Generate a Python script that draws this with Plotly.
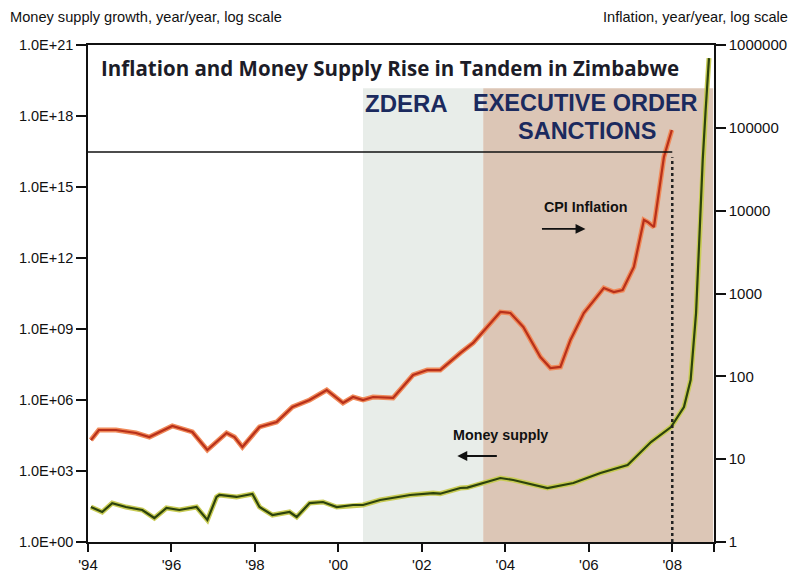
import plotly.graph_objects as go

# ---------------- data ----------------
cpi_years = [1994.07, 1994.26, 1994.67, 1995.15, 1995.47, 1996.02, 1996.50, 1996.67, 1996.86,
             1997.32, 1997.51, 1997.70, 1998.11, 1998.52, 1998.90, 1999.31, 1999.72, 2000.11,
             2000.35, 2000.59, 2000.83, 2001.31, 2001.79, 2002.13, 2002.44, 2002.92, 2003.23,
             2003.88, 2004.12, 2004.43, 2004.84, 2005.08, 2005.32, 2005.56, 2005.88, 2006.36,
             2006.60, 2006.81, 2007.08, 2007.32, 2007.41, 2007.56, 2007.65, 2007.80, 2007.99]
cpi_values = [17.0, 22.5, 22.5, 20.7, 18.5, 25.2, 21.3, 17.0, 12.9,
              20.7, 18.5, 14.0, 24.5, 28.1, 42.7, 51.8, 68.4, 47.7,
              56.3, 51.8, 56.3, 54.8, 104, 119, 119, 191, 253,
              598, 582, 394, 171, 126, 130, 275, 582, 1166,
              1043, 1103, 2090, 7720, 7300, 6350, 13460, 44500, 94200]

money_years = [1994.07, 1994.34, 1994.58, 1994.91, 1995.30, 1995.59, 1995.88, 1996.19, 1996.60,
               1996.86, 1997.08, 1997.15, 1997.56, 1997.94, 1998.11, 1998.42, 1998.83, 1999.00,
               1999.31, 1999.63, 1999.96, 2000.35, 2000.59, 2001.00, 2001.72, 2002.27, 2002.44,
               2002.92, 2003.09, 2003.88, 2004.19, 2005.01, 2005.63, 2006.28, 2006.93, 2007.49,
               2007.97, 2008.28, 2008.44, 2008.57, 2008.64, 2008.73, 2008.80, 2008.88]
money_values = [30, 18.5, 44, 30, 22.5, 10.3, 27.3, 22.5, 30,
                8.5, 80, 97, 80, 107, 30, 13.8, 18.5, 11.4,
                44, 49, 30, 36.6, 36.6, 59.5, 97, 117, 110,
                191, 200, 506, 416, 191, 311, 822, 1790, 16800,
                72200, 5.05e5, 7.0e6, 4.7e9, 2.9e12, 1.4e16, 1.8e18, 2.8e20]

x_tick_years = [1994, 1996, 1998, 2000, 2002, 2004, 2006, 2008, 2009]
x_tick_labels = ["'94", "'96", "'98", "'00", "'02", "'04", "'06", "'08", ""]

left_tick_vals = [1e0, 1e3, 1e6, 1e9, 1e12, 1e15, 1e18, 1e21]
left_tick_labels = ["1.0E+00", "1.0E+03", "1.0E+06", "1.0E+09", "1.0E+12", "1.0E+15", "1.0E+18", "1.0E+21"]
right_tick_vals = [1, 10, 100, 1000, 10000, 100000, 1000000]
right_tick_labels = ["1", "10", "100", "1000", "10000", "100000", "1000000"]

zdera_period = [2000.59, 2003.47]
eo_period = [2003.47, 2008.98]
shade_top = 1.5e19
ref_line_level = 3e16
ref_line_end = 2008.0

# ---------------- figure ----------------
FONT = "Liberation Sans, Arial, sans-serif"
NAVY = "#1b2a5e"

fig = go.Figure()

# CPI inflation (right axis), halo + core
fig.add_trace(go.Scatter(x=cpi_years, y=cpi_values, yaxis="y2", mode="lines",
                         line=dict(color="#f08a5a", width=5), hoverinfo="skip", showlegend=False))
fig.add_trace(go.Scatter(x=cpi_years, y=cpi_values, yaxis="y2", mode="lines", name="CPI inflation",
                         line=dict(color="#b8301a", width=2.2), showlegend=False))
# Money supply (left axis)
fig.add_trace(go.Scatter(x=money_years, y=money_values, yaxis="y", mode="lines",
                         line=dict(color="#c9cc55", width=5), hoverinfo="skip", showlegend=False))
fig.add_trace(go.Scatter(x=money_years, y=money_values, yaxis="y", mode="lines", name="Money supply",
                         line=dict(color="#2c430c", width=2.2), showlegend=False))

shapes = [
    dict(type="rect", xref="x", yref="y", x0=zdera_period[0], x1=zdera_period[1], y0=1, y1=shade_top,
         fillcolor="#e8ede9", line=dict(width=0), layer="below"),
    dict(type="rect", xref="x", yref="y", x0=eo_period[0], x1=eo_period[1], y0=1, y1=shade_top,
         fillcolor="#dcc6b6", line=dict(width=0), layer="below"),
    dict(type="line", xref="x", yref="y", x0=1994, x1=ref_line_end, y0=ref_line_level, y1=ref_line_level,
         line=dict(color="#111111", width=1.5)),
    dict(type="line", xref="x", yref="y", x0=ref_line_end, x1=ref_line_end, y0=1, y1=ref_line_level * 0.6,
         line=dict(color="#222222", width=2.5, dash="dot")),
]


def label(text, x, y, size, color="#111111", family=FONT, xref="x"):
    return dict(text=text, xref=xref, yref="paper", x=x, y=y, xanchor="center", yanchor="middle",
                showarrow=False, font=dict(family=family, size=size, color=color))


annotations = [
    label("<b>Inflation and Money Supply Rise in Tandem in Zimbabwe</b>", 2001.24, 0.954, 20.5,
          color="#1c1c28", family="Open Sans, Lato, sans-serif"),
    label("<b>ZDERA</b>", 2001.62, 0.883, 24, color=NAVY),
    label("<b>EXECUTIVE ORDER</b>", 2005.93, 0.883, 23.5, color=NAVY),
    label("<b>SANCTIONS</b>", 2005.95, 0.827, 23.5, color=NAVY),
    label("<b>CPI Inflation</b>", 2005.92, 0.674, 14.3),
    dict(text="", xref="x", yref="paper", x=2005.92, y=0.630, ax=-45, ay=0, showarrow=True,
         arrowhead=2, arrowsize=1.1, arrowwidth=1.8, arrowcolor="#111111"),
    label("<b>Money supply</b>", 2003.88, 0.215, 14.3),
    dict(text="", xref="x", yref="paper", x=2002.85, y=0.173, ax=41, ay=0, showarrow=True,
         arrowhead=2, arrowsize=1.1, arrowwidth=1.8, arrowcolor="#111111"),
    dict(text="Money supply growth, year/year, log scale", xref="paper", yref="paper",
         x=-0.128, y=1.056, xanchor="left", yanchor="middle", showarrow=False,
         font=dict(family=FONT, size=14.6, color="#111111")),
    dict(text="Inflation, year/year, log scale", xref="paper", yref="paper",
         x=1.121, y=1.056, xanchor="right", yanchor="middle", showarrow=False,
         font=dict(family=FONT, size=14.6, color="#111111")),
]

axis_common = dict(showgrid=False, zeroline=False, showline=True, linecolor="#111111", linewidth=1.5,
                   ticks="outside", tickcolor="#111111", tickwidth=1.5, automargin=False)

fig.update_layout(
    width=792, height=580,
    margin=dict(l=88, r=78, t=45, b=38, autoexpand=False),
    paper_bgcolor="white", plot_bgcolor="white",
    shapes=shapes, annotations=annotations,
    xaxis=dict(range=[1994, 2009], tickmode="array", tickvals=x_tick_years, ticktext=x_tick_labels,
               ticklen=8, mirror=True, tickfont=dict(family=FONT, size=15, color="#111111"), **axis_common),
    yaxis=dict(type="log", range=[0, 21], tickmode="array", tickvals=left_tick_vals, ticktext=left_tick_labels,
               ticklen=10, tickfont=dict(family=FONT, size=14.5, color="#111111"), **axis_common),
    yaxis2=dict(type="log", range=[0, 6], tickmode="array", tickvals=right_tick_vals, ticktext=right_tick_labels,
                overlaying="y", side="right", ticklen=10,
                tickfont=dict(family=FONT, size=15, color="#111111"), **axis_common),
)

# remove the page's default 8px body margin so the 792x580 figure fills the window exactly
fig.write_html("out.html", config={"displayModeBar": False},
               post_script="document.body.style.margin='0';document.body.style.overflow='hidden';")
